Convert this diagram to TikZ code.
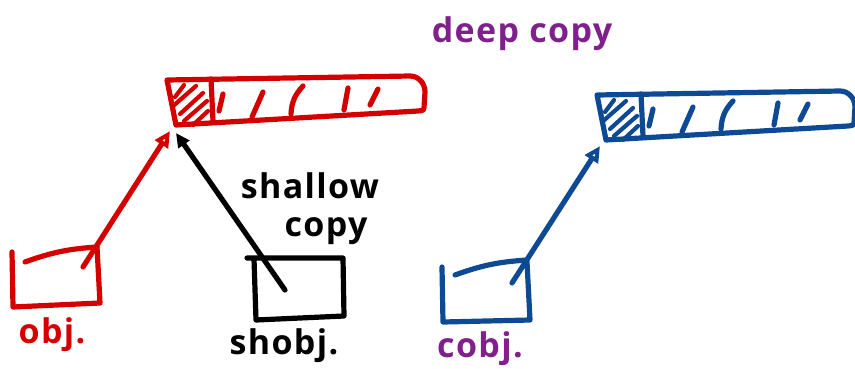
\documentclass[tikz,border=0pt]{standalone}
\usepackage{fontspec}
\setmainfont{Open Sans}
\usetikzlibrary{arrows.meta}
\definecolor{inkred}{RGB}{212,0,0}
\definecolor{inkblue}{RGB}{14,74,148}
\definecolor{inkpurple}{RGB}{128,32,140}
\tikzset{
  pen/.style={line width=5.2pt, line cap=round, line join=round},
  thin pen/.style={line width=4.2pt, line cap=round, line join=round},
  label/.style={font=\fontsize{34}{34}\selectfont\bfseries\addfontfeature{LetterSpace=4}, inner sep=0pt},
  openhead/.style={-{Triangle[open, length=16pt, width=15pt, line width=4pt]}},
  fillhead/.style={-{Triangle[length=14pt, width=13pt]}}
}
\begin{document}
\begin{tikzpicture}[x=1pt,y=-1pt]
\useasboundingbox (0,0) rectangle (855,368);

% ---------- red array (the shared list) ----------
\begin{scope}[inkred]
  \draw[pen] (167,80) -- (410,76) to[out=0,in=90] (425,92) -- (424,108)
             to[out=-90,in=0] (418,111) -- (176,125) -- cycle;
  \draw[pen] (211,79) -- (213,121);
  % hatched first cell
  \draw[thin pen] (175,97) -- (184,85);
  \draw[thin pen] (172,107) -- (196,86);
  \draw[thin pen] (180,114) -- (203,93);
  \draw[thin pen] (184,121) -- (207,101);
  \draw[thin pen] (193,125) -- (208,111);
  % element ticks
  \draw[pen] (223,94) -- (219,111);
  \draw[pen] (263,92) -- (252,117);
  \draw[pen] (303,86) to[bend right=20] (291,114);
  \draw[pen] (348,88) -- (344,110);
  \draw[pen] (378,89) -- (370,105);
  \coordinate (redtip) at (170,131);
  \coordinate (blacktip) at (176,133);
\end{scope}

% ---------- blue array (the deep copy) ----------
\begin{scope}[inkblue, shift={(430,15)}]
  \draw[pen] (167,80) -- (410,76) to[out=0,in=90] (425,92) -- (424,108)
             to[out=-90,in=0] (418,111) -- (176,125) -- cycle;
  \draw[pen] (211,79) -- (213,121);
  \draw[thin pen] (175,97) -- (184,85);
  \draw[thin pen] (172,107) -- (196,86);
  \draw[thin pen] (180,114) -- (203,93);
  \draw[thin pen] (184,121) -- (207,101);
  \draw[thin pen] (193,125) -- (208,111);
  \draw[pen] (223,94) -- (219,111);
  \draw[pen] (263,92) -- (252,117);
  \draw[pen] (303,86) to[bend right=20] (291,114);
  \draw[pen] (348,88) -- (344,110);
  \draw[pen] (378,89) -- (370,105);
  \coordinate (bluetip) at (170,131);
\end{scope}

% ---------- obj box ----------
\draw[pen, inkred] (12,252) -- (13,307) -- (100,303) -- (97,247);
\draw[pen, inkred] (25,262) to[bend left=8] (97,247);
\coordinate (objstart) at (83,267);
\draw[pen, inkred, openhead] (objstart) -- (redtip);

% ---------- shobj box ----------
\draw[pen] (247,258) -- (343,258) -- (344,316) -- (256,320) -- (254,259);
\coordinate (shstart) at (285,290);
\draw[pen, fillhead] (shstart) -- (blacktip);

% ---------- cobj box ----------
\draw[pen, inkblue] (442,267) -- (443,322) -- (530,320) -- (527,262);
\draw[pen, inkblue] (455,275) to[bend left=8] (527,260);
\coordinate (cobjstart) at (512,283);
\draw[pen, inkblue, openhead] (cobjstart) -- (bluetip);

% ---------- labels ----------
\node[label, inkred] (lobj) at (52,335) {obj.};
\node[label] (lshobj) at (284,346) {shobj.};
\node[label, inkpurple] (lcobj) at (480,349) {cobj.};
\node[label] (lshallow) at (310,186) {shallow};
\node[label] (lcopy) at (326,231) {copy};
\node[label, inkpurple] (ldeep) at (522,34) {deep copy};
\end{tikzpicture}
\end{document}
